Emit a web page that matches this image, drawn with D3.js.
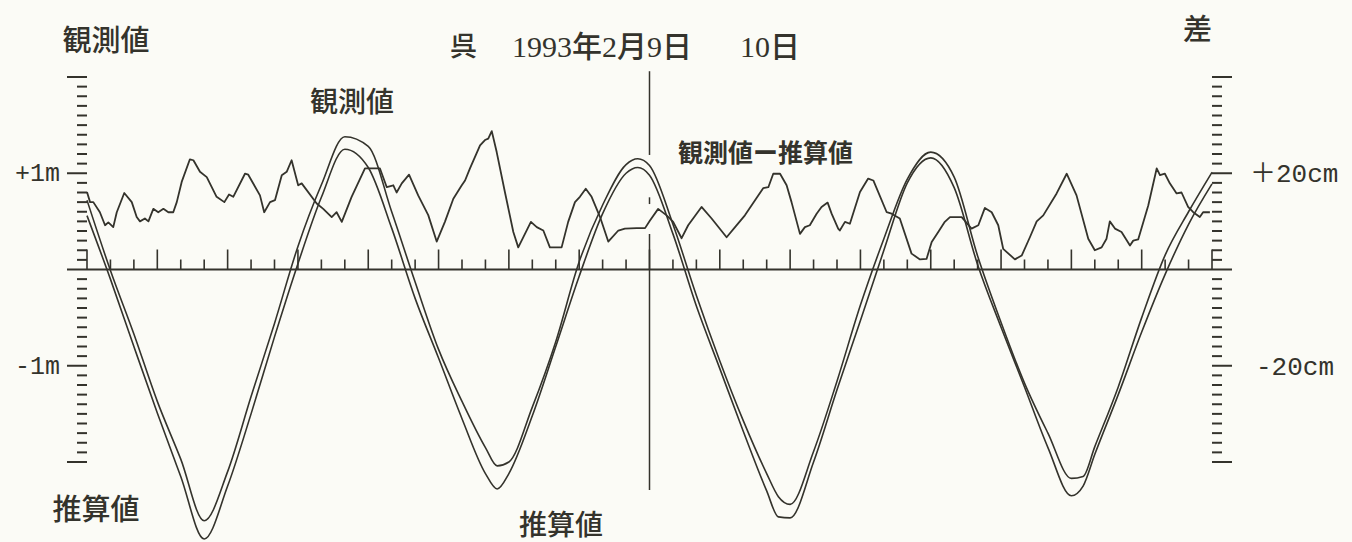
<!DOCTYPE html>
<html>
<head>
<meta charset="utf-8">
<script src="https://cdn.jsdelivr.net/npm/d3@7"></script>
<style>
  html, body { margin: 0; padding: 0; background: #fbfbf6; }
  svg { display: block; }
</style>
</head>
<body>
<div id="chart"></div>
<script>
// 呉 tide record, 1993-02-09 00h .. 02-11 00h
// time in hours from 2/9 0:00, tide in metres (left scale), residual in cm (right scale)

const tideHours = [0,1,2,3,4,5,6,7,8,9,10,11,12,13,14,15,16,17,17.5,18,19,20,21,22,23,23.5,24,
  25,26,27,28,29,29.5,30,31,32,33,34,35,36,37,38,39,40,41,42,42.5,43,44,45,46,47,48];

const predicted = [0.56,-0.10,-0.80,-1.49,-2.15,-2.80,-2.25,-1.50,-0.70,0.06,0.75,1.25,1.06,0.43,
  -0.30,-0.92,-1.55,-2.12,-2.28,-2.12,-1.52,-0.80,-0.07,0.58,1.00,1.06,0.98,
  0.37,-0.38,-1.03,-1.68,-2.30,-2.57,-2.58,-2.00,-1.25,-0.53,0.20,0.90,1.16,0.85,0.05,
  -0.60,-1.22,-1.85,-2.35,-2.25,-1.92,-1.30,-0.65,-0.05,0.47,0.89];

const observed = [0.72,-0.01,-0.67,-1.37,-1.97,-2.61,-2.10,-1.32,-0.56,0.24,0.88,1.38,1.28,0.60,
  -0.13,-0.83,-1.37,-1.85,-2.04,-2.00,-1.43,-0.75,0.08,0.67,1.09,1.15,1.08,
  0.47,-0.27,-0.95,-1.57,-2.12,-2.36,-2.44,-1.89,-1.16,-0.37,0.32,0.94,1.22,0.96,0.14,
  -0.55,-1.18,-1.70,-2.17,-2.15,-1.84,-1.22,-0.50,0.15,0.60,1.01];

const resHours = [0,0.13,0.27,0.55,0.77,0.91,1.12,1.27,1.59,1.91,2.12,2.26,2.47,2.62,2.83,3.04,3.26,3.47,3.68,3.83,
  4.04,4.39,4.54,4.82,5.11,5.53,5.86,6.06,6.24,6.74,6.88,7.38,7.56,7.81,8.02,8.31,8.52,8.73,9.01,9.16,
  9.80,10.08,10.44,10.65,10.87,11.29,11.86,12.50,12.79,13.07,13.21,13.43,13.74,14.13,14.56,14.92,15.27,15.63,15.99,16.13,
  16.34,16.77,16.98,17.12,17.27,17.48,17.83,18.19,18.40,18.94,19.19,19.47,19.75,20.25,20.53,20.82,21.03,21.28,21.53,21.89,
  22.24,22.67,22.95,23.45,23.81,24.02,24.37,24.73,25.01,25.37,25.65,26.22,26.65,27.29,27.65,28.07,28.64,28.85,29.07,29.28,
  29.57,29.85,30.06,30.42,30.63,30.84,31.13,31.34,31.60,31.77,32.05,32.12,32.34,32.55,32.98,33.33,33.55,34.12,34.33,34.68,
  35.18,35.54,35.82,36.04,36.32,36.60,36.82,37.32,37.74,38.03,38.31,38.60,38.88,39.09,39.59,39.88,40.23,40.52,40.80,41.37,
  41.80,42.22,42.72,43.00,43.29,43.50,43.64,43.86,44.14,44.50,44.64,44.85,45.28,45.64,45.78,45.99,46.20,46.49,46.70,46.98,
  47.20,47.48,47.62,47.91];

const resCm = [16.1,14.0,14.0,11.9,9.2,9.8,8.8,11.9,15.9,14.0,10.9,10.0,10.6,10.0,12.6,11.9,12.6,11.9,11.9,14.0,
  18.2,22.9,22.7,20.3,19.2,15.1,14.0,15.6,15.1,19.9,19.7,15.4,11.9,14.0,14.4,19.6,20.3,22.7,17.5,17.9,
  13.7,12.6,10.9,11.9,9.9,15.1,21.0,21.0,17.1,17.5,16.0,17.9,19.7,15.4,11.3,5.8,9.9,14.7,17.5,18.5,
  21.0,25.8,26.9,27.2,28.75,24.4,16.1,7.8,4.6,9.9,8.8,8.1,4.6,4.6,9.9,14.0,15.1,16.8,15.1,10.9,
  5.8,8.1,8.5,8.6,8.6,10.2,12.6,11.25,9.9,6.5,9.2,13.0,10.6,6.7,8.8,11.25,15.4,16.9,17.1,19.9,
  19.9,17.5,14.0,7.4,8.8,9.2,11.6,13.0,13.9,11.6,8.5,8.1,9.9,9.5,16.1,18.9,18.5,11.9,11.6,10.6,
  3.3,2.1,2.2,5.7,7.8,9.9,10.9,10.9,8.5,9.2,12.8,11.9,9.2,4.3,2.1,2.9,6.7,10.0,11.25,15.8,
  19.9,15.4,6.4,4.0,4.6,6.4,10.0,8.5,7.8,5.0,6.0,6.25,13.3,21.0,19.6,19.9,17.9,15.8,16.0,13.0,
  11.9,10.9,11.9,11.9];

// left scale ticks (m) and right scale ticks (cm)
const leftLabels = [{v: 1, t: "+1m"}, {v: -1, t: "-1m"}];
const rightLabels = [{v: 20, t: "＋20cm"}, {v: -20, t: "-20cm"}];
// day boundary (2/10 0h) drawn as a broken vertical line, segments in metres
const dayLineHour = 24;
const dayLineSegs = [[2.06, 1.19], [0.75, 0.68], [0.37, -2.29]];

const width = 1352, height = 542;
const ink = "#34332c";

const svg = d3.select("#chart").append("svg")
  .attr("width", width)
  .attr("height", height);

svg.append("rect").attr("width", width).attr("height", height).attr("fill", "#fbfbf6");

const x = d3.scaleLinear().domain([0, 48]).range([87, 1212]);
const yL = d3.scaleLinear().domain([-2, 2]).range([462, 77]);
const yR = d3.scaleLinear().domain([-40, 40]).range([462, 77]);

// zero line
svg.append("line")
  .attr("x1", x(0) - 20).attr("x2", x(48) + 20)
  .attr("y1", yL(0)).attr("y2", yL(0))
  .attr("stroke", ink).attr("stroke-width", 2);

// hour ticks, longer every 3 hours
svg.append("g").selectAll("line")
  .data(d3.range(0, 49))
  .enter().append("line")
  .attr("x1", d => x(d)).attr("x2", d => x(d))
  .attr("y1", yL(0))
  .attr("y2", d => yL(0) - (d % 3 === 0 ? 20 : 10))
  .attr("stroke", ink).attr("stroke-width", 1.6);

// left scale ticks every 0.1 m
svg.append("g").selectAll("line")
  .data(d3.range(-20, 21).filter(i => i !== 0))
  .enter().append("line")
  .attr("x1", d => x(0) - (d % 10 === 0 ? 20 : 10)).attr("x2", x(0))
  .attr("y1", d => yL(d / 10)).attr("y2", d => yL(d / 10))
  .attr("stroke", ink).attr("stroke-width", 2);

// right scale ticks every 2 cm
svg.append("g").selectAll("line")
  .data(d3.range(-40, 41, 2).filter(v => v !== 0))
  .enter().append("line")
  .attr("x1", x(48)).attr("x2", d => x(48) + (d % 20 === 0 ? 20 : 10))
  .attr("y1", d => yR(d)).attr("y2", d => yR(d))
  .attr("stroke", ink).attr("stroke-width", 2);

// scale labels
svg.append("g").selectAll("text")
  .data(leftLabels)
  .enter().append("text")
  .attr("x", 60).attr("y", d => yL(d.v) + 8)
  .attr("text-anchor", "end")
  .attr("font-family", "'Liberation Mono', 'Noto Sans CJK JP', monospace")
  .attr("font-size", 25)
  .attr("fill", ink)
  .text(d => d.t);

svg.append("g").selectAll("text")
  .data(rightLabels)
  .enter().append("text")
  .attr("x", d => d.v > 0 ? 1250 : 1256).attr("y", d => yR(d.v) + 9)
  .attr("font-family", "'Liberation Mono', 'Noto Sans CJK JP', monospace")
  .attr("font-size", 26)
  .attr("fill", ink)
  .text(d => d.t);

// day boundary line
svg.append("g").selectAll("line")
  .data(dayLineSegs)
  .enter().append("line")
  .attr("x1", x(dayLineHour)).attr("x2", x(dayLineHour))
  .attr("y1", d => yL(d[0])).attr("y2", d => yL(d[1]))
  .attr("stroke", ink).attr("stroke-width", 1.5);

// tide curves
const tideLine = (vals) => d3.line()
  .x((d, i) => x(tideHours[i]))
  .y(d => yL(d))
  .curve(d3.curveMonotoneX)(vals);

svg.append("path")
  .attr("d", tideLine(predicted))
  .attr("fill", "none").attr("stroke", ink).attr("stroke-width", 1.6);

svg.append("path")
  .attr("d", tideLine(observed))
  .attr("fill", "none").attr("stroke", ink).attr("stroke-width", 1.6);

// residual (observed - predicted)
const resLine = d3.line()
  .x((d, i) => x(resHours[i]))
  .y(d => yR(d));

svg.append("path")
  .attr("d", resLine(resCm))
  .attr("fill", "none").attr("stroke", ink).attr("stroke-width", 1.8)
  .attr("stroke-linejoin", "round");

// titles and labels
const jp = "'Liberation Serif', 'Noto Sans CJK JP', serif";
const label = (t, px, py, size, weight, anchor) => svg.append("text")
  .attr("x", px).attr("y", py)
  .attr("text-anchor", anchor || "start")
  .attr("font-family", jp)
  .attr("font-size", size)
  .attr("font-weight", weight || 500)
  .attr("fill", ink)
  .text(t);

label("呉", 450, 56, 27);
label("1993年2月9日", 512, 57, 30);
label("10日", 740, 57, 30);
label("差", 1183, 40, 29);
label("観測値", 106, 51, 29, 500, "middle");
label("観測値", 352, 112, 28, 500, "middle");
label("観測値ー推算値", 678, 162, 25, 700);
label("推算値", 96, 520, 29, 500, "middle");
label("推算値", 561, 535, 28, 500, "middle");
</script>
</body>
</html>
